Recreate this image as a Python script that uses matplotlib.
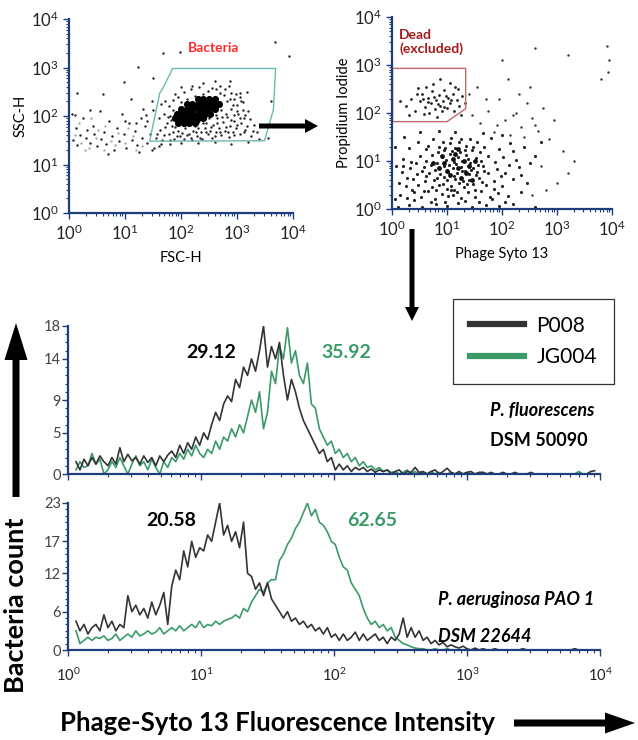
import numpy as np
import matplotlib
matplotlib.use("Agg")
import matplotlib.pyplot as plt
from matplotlib.lines import Line2D
from matplotlib.patches import FancyArrow, Polygon
from matplotlib.ticker import LogLocator, MultipleLocator, NullFormatter

plt.rcParams['font.family'] = ['Lato', 'DejaVu Sans']

W, H = 638, 740
NAVY = '#1d3d7c'
DARK = '#333333'
GREEN = '#3a9b68'

# ---- histogram data: counts per channel, channels spaced 0.03 decades from 10^0.06 ----
first_decade = 0.06
decade_step = 0.03

pf_p008 = [1.5, 0.5, 1.8, 1.0, 2.0, 1.2, 2.2, 1.5, 1.0, 2.0,
           1.2, 3.2, 1.5, 2.4, 1.6, 2.0, 1.2, 2.2, 1.4, 2.0,
           1.0, 2.2, 1.5, 2.3, 2.8, 2.0, 3.5, 2.5, 3.8, 3.0,
           4.5, 3.5, 5.0, 4.2, 6.0, 7.5, 6.5, 8.5, 9.5, 8.8,
           11.5, 10.5, 13.0, 12.0, 14.0, 12.5, 15.0, 18.0, 13.0, 15.5,
           14.0, 16.0, 12.0, 9.0, 11.5, 10.0, 8.0, 6.5, 5.5, 4.5,
           3.5, 2.5, 3.0, 1.5, 2.0, 0.5, 1.2, 0.5, 1.0, 0.3,
           0.8, 0.5, 0.8, 0.3, 0.6, 0.2, 0.5, 0.3, 0.5, 0.0,
           0.3, 0.5, 0.0, 0.3, 0.2, 0.8, 0.2, 0.3, 0.0, 0.3,
           0.5, 0.0, 0.3, 0.7, 0.2, 0.0, 0.3, 0.0, 0.2, 0.3,
           0.0, 0.2, 0.2, 0.0, 0.2, 0.0, 0.0, 0.2, 0.0, 0.0,
           0.2, 0.0, 0.0, 0.0, 0.2, 0.0, 0.0, 0.0, 0.0, 0.0,
           0.0, 0.0, 0.0, 0.0, 0.0, 0.0, 0.0, 0.0, 0.0, 0.3,
           0.4]

pf_jg004 = [0.5, 1.5, 0.8, 1.0, 2.5, 1.2, 1.8, 0.0, 0.5, 1.5,
            0.8, 2.0, 1.0, 0.0, 1.2, 2.2, 1.0, 1.5, 0.5, 1.8,
            0.8, 0.0, 1.5, 0.8, 2.0, 1.5, 2.5, 1.8, 3.0, 2.2,
            3.5, 2.5, 2.0, 3.0, 2.5, 4.0, 3.0, 4.5, 4.0, 5.5,
            4.5, 6.0, 5.0, 7.0, 9.0, 7.5, 10.0, 5.5, 7.5, 12.5,
            11.0, 15.5, 14.0, 17.8, 13.5, 15.0, 12.0, 11.0, 13.5, 8.5,
            8.0, 5.5, 4.5, 3.5, 4.0, 2.5, 3.0, 2.0, 2.5, 1.5,
            2.0, 1.0, 1.5, 0.8, 1.0, 0.5, 0.8, 0.3, 0.5, 0.2,
            0.3, 0.0, 0.2, 0.5, 0.0, 0.3, 0.0, 0.2, 0.0, 0.3,
            0.0, 0.2, 0.0, 0.0, 0.2, 0.0, 0.0, 0.0, 0.2, 0.0,
            0.0, 0.0, 0.2, 0.0, 0.0, 0.0, 0.0, 0.0, 0.0, 0.0,
            0.0, 0.0, 0.0, 0.0, 0.0, 0.0, 0.0, 0.0, 0.0, 0.0,
            0.0, 0.0, 0.0, 0.0, 0.0, 0.0, 0.3, 0.0, 0.0, 0.0,
            0.0]

pa_p008 = [4.5, 3.0, 4.0, 2.5, 3.5, 4.0, 3.0, 5.5, 3.5, 4.5,
           3.0, 4.0, 3.5, 8.5, 6.0, 7.0, 5.5, 6.5, 5.0, 7.5,
           5.5, 7.0, 9.0, 4.0, 10.0, 12.5, 11.0, 15.5, 13.0, 17.0,
           14.5, 16.0, 15.5, 18.0, 17.0, 20.0, 23.0, 18.0, 19.5, 17.0,
           18.5, 16.0, 20.0, 12.0, 11.5, 9.5, 10.5, 8.5, 10.5, 8.0,
           7.0, 6.0, 5.0, 6.0, 4.5, 5.0, 4.0, 4.5, 3.5, 4.0,
           3.0, 3.5, 2.5, 3.5, 2.0, 2.5, 1.5, 2.5, 1.5, 2.0,
           2.8, 1.5, 2.5, 1.5, 2.0, 2.5, 1.5, 2.0, 1.0, 2.0,
           1.5, 2.5, 5.0, 2.0, 3.5, 2.0, 3.0, 1.5, 2.0, 1.0,
           1.5, 0.8, 1.2, 0.5, 0.8, 0.5, 0.3, 0.6, 0.2, 0.0,
           0.3, 0.0, 0.2, 0.0, 0.0, 0.2, 0.0, 0.0, 0.0, 0.0,
           0.0, 0.0, 0.2, 0.0, 0.0, 0.0, 0.0, 0.0, 0.0, 0.0,
           0.0, 0.0, 0.0, 0.0, 0.0, 0.2, 0.0, 0.0, 0.0, 0.0,
           0.0]

pa_jg004 = [3.0, 1.0, 1.5, 2.0, 1.5, 2.0, 1.8, 2.2, 1.5, 1.8,
            2.5, 1.5, 2.0, 2.5, 2.0, 3.0, 2.2, 2.5, 3.0, 2.5,
            2.8, 3.5, 2.5, 3.0, 3.5, 3.0, 3.8, 3.0, 3.5, 4.0,
            3.5, 4.5, 3.5, 4.0, 3.8, 4.5, 4.0, 4.5, 4.8, 5.0,
            5.5, 5.0, 6.5, 6.0, 7.5, 8.5, 9.5, 9.0, 10.5, 11.0,
            11.0, 14.0, 15.0, 16.5, 17.5, 19.0, 20.0, 21.5, 23.0, 21.0,
            22.0, 20.0, 19.5, 18.5, 17.0, 16.5, 14.5, 13.0, 12.5, 10.5,
            9.5, 8.5, 6.5, 5.0, 4.0, 4.5, 3.5, 4.0, 3.0, 3.5,
            2.0, 1.5, 1.0, 0.8, 0.5, 0.3, 0.2, 0.2, 0.0, 0.0,
            0.2, 0.0, 0.0, 0.2, 0.0, 0.0, 0.0, 0.0, 0.0, 0.0,
            0.0, 0.0, 0.0, 0.0, 0.0, 0.0, 0.0, 0.0, 0.0, 0.0,
            0.0, 0.0, 0.0, 0.0, 0.0, 0.0, 0.0, 0.0, 0.0, 0.0,
            0.0, 0.0, 0.0, 0.0, 0.0, 0.0, 0.0, 0.0, 0.0, 0.0,
            0.0]

pf_yticks = [0, 5, 9, 14, 18]
pa_yticks = [0, 6, 12, 17, 23]
pf_means = ['29.12', '35.92']
pa_means = ['20.58', '62.65']

# ---- scatter data, log10 units (FSC-H, SSC-H) ----
fsc_ssc_core = [(1.95, 1.85), (2.05, 1.85), (2.15, 1.85), (2.25, 1.85),
                (1.90, 1.95), (2.00, 1.95), (2.10, 1.95), (2.20, 1.95), (2.30, 1.95), (2.40, 1.95),
                (1.92, 2.05), (2.02, 2.05), (2.12, 2.05), (2.22, 2.05), (2.32, 2.05), (2.42, 2.05),
                (2.52, 2.05), (2.00, 2.15), (2.10, 2.15), (2.20, 2.15), (2.30, 2.15), (2.40, 2.15),
                (2.50, 2.15), (2.60, 2.15), (2.10, 2.25), (2.20, 2.25), (2.30, 2.25), (2.40, 2.25),
                (2.50, 2.25), (2.60, 2.25), (2.68, 2.25), (2.30, 2.35), (2.40, 2.35), (2.50, 2.35),
                (2.60, 2.35), (1.97, 1.90), (2.07, 2.00), (2.17, 2.10), (2.27, 2.20), (2.37, 2.30),
                (2.47, 2.30), (2.57, 2.20), (2.47, 2.10), (2.37, 2.00), (2.27, 1.90), (2.17, 1.90),
                (2.12, 2.20), (2.55, 2.30), (2.35, 2.10), (2.45, 2.20), (2.05, 2.10), (2.25, 2.00)]
fsc_ssc_dots = [(1.55, 1.55), (1.62, 1.72), (1.70, 1.60), (1.75, 1.85), (1.80, 1.50), (1.85, 1.68),
                (1.90, 1.78), (1.92, 1.58), (1.97, 1.88), (2.02, 1.65), (2.05, 1.52), (2.08, 1.75),
                (2.12, 1.84), (2.15, 1.62), (2.18, 1.55), (2.22, 1.70), (2.25, 1.80), (2.28, 1.58),
                (2.32, 1.92), (2.35, 1.66), (2.38, 1.52), (2.42, 1.76), (2.45, 1.85), (2.48, 1.62),
                (2.52, 1.70), (2.55, 1.55), (2.58, 1.82), (2.62, 1.66), (2.65, 1.95), (2.68, 1.75),
                (2.72, 1.60), (2.75, 1.88), (2.78, 1.70), (2.82, 1.98), (2.85, 1.56), (2.88, 1.80),
                (2.92, 1.68), (2.95, 1.90), (2.98, 1.75), (3.02, 2.05), (3.05, 1.62), (3.08, 1.85),
                (3.12, 1.95), (3.15, 1.72), (3.20, 2.10), (3.25, 1.58), (3.30, 1.82), (3.35, 1.66),
                (3.40, 1.52), (1.70, 2.05), (1.78, 2.20), (1.85, 2.32), (1.88, 2.02), (1.95, 2.40),
                (2.00, 2.28), (2.05, 2.50), (2.10, 2.36), (2.18, 2.55), (2.25, 2.42), (2.32, 2.60),
                (2.40, 2.45), (2.48, 2.52), (2.55, 2.58), (2.62, 2.55), (2.70, 2.62), (2.78, 2.55),
                (2.85, 2.62), (2.90, 2.48), (2.95, 2.35), (3.00, 2.22), (3.05, 2.40), (3.10, 2.28),
                (3.18, 2.50), (2.90, 2.15), (2.80, 2.05), (2.95, 2.02), (3.10, 2.12), (1.60, 1.95),
                (1.65, 2.25), (1.50, 2.12), (1.45, 1.62), (1.40, 1.45), (1.35, 1.80), (1.30, 1.55),
                (1.28, 1.95), (1.22, 1.40), (1.18, 1.70), (1.12, 1.50), (1.08, 1.85), (1.02, 1.35),
                (0.98, 1.62), (0.95, 2.05), (0.90, 1.48), (0.85, 1.75), (0.80, 1.30), (0.76, 1.58),
                (0.72, 1.90), (0.66, 1.42), (0.62, 1.68), (0.58, 1.52), (0.55, 2.10), (0.50, 1.38),
                (0.45, 1.62), (0.42, 1.80), (0.38, 1.45), (0.33, 1.72), (0.30, 1.55), (0.25, 1.95),
                (0.20, 1.60), (0.15, 1.40), (0.12, 1.75), (0.08, 1.50), (0.05, 2.05), (1.25, 1.25),
                (0.70, 1.22), (1.48, 1.30), (1.52, 1.35), (1.60, 1.38), (1.38, 2.02), (1.67, 3.29),
                (1.98, 3.31), (3.67, 3.52), (3.92, 3.24), (1.23, 3.02), (0.98, 2.71), (1.50, 2.78),
                (2.87, 2.73), (3.05, 2.47), (0.14, 2.47), (0.10, 2.03), (0.37, 2.13), (3.55, 1.55),
                (3.60, 2.30), (0.60, 2.45), (1.10, 2.35),
                (1.58, 1.62), (1.66, 1.50), (1.72, 1.78), (1.78, 1.62), (1.82, 1.92), (1.88, 1.52),
                (1.94, 1.70), (1.99, 1.58), (2.04, 1.82), (2.10, 1.60), (2.16, 1.90), (2.20, 1.50),
                (2.26, 1.66), (2.30, 1.76), (2.34, 1.55), (2.40, 1.86), (2.44, 1.68), (2.50, 1.95),
                (2.54, 1.78), (2.60, 1.58), (2.64, 1.85), (2.70, 1.68), (2.74, 1.98), (2.80, 1.78),
                (2.84, 1.66), (2.90, 1.92), (2.94, 1.60), (3.00, 1.82), (3.06, 1.96), (3.12, 1.66),
                (3.18, 1.80), (3.24, 1.94), (3.28, 1.70), (2.92, 2.22), (3.00, 2.10), (3.08, 2.30),
                (3.14, 2.02), (2.98, 2.45), (2.88, 2.36), (1.80, 2.00), (1.86, 2.12), (1.76, 1.98),
                (1.72, 2.30), (1.90, 2.45), (2.00, 2.60), (2.20, 2.62), (2.40, 2.68), (2.60, 2.72),
                (1.64, 1.42), (1.80, 1.42), (2.00, 1.45), (2.30, 1.44), (2.60, 1.46), (2.90, 1.42),
                (3.20, 1.46), (1.40, 1.90), (1.48, 2.30), (1.32, 2.15), (1.20, 1.85), (1.00, 1.90),
                (2.76, 2.44), (2.82, 2.30), (2.70, 2.48), (1.84, 1.80), (2.62, 2.02), (2.72, 2.12)]
fsc_ssc_faint = [(0.10, 1.60), (0.22, 1.45), (0.35, 1.35), (0.48, 1.55), (0.62, 1.30), (0.75, 1.48),
                 (0.88, 1.65), (1.00, 1.45), (1.15, 1.58), (1.30, 1.38), (0.18, 1.85), (0.40, 1.95),
                 (0.65, 1.80), (0.28, 1.30), (0.52, 1.72), (0.82, 1.40), (1.05, 1.75), (1.20, 1.30)]
bacteria_gate = [(1.44, 1.48), (1.62, 2.47), (1.68, 2.58), (1.85, 2.98),
                 (3.69, 2.98), (3.65, 2.13), (3.49, 1.49)]

# ---- scatter data, log10 units (Phage Syto 13, Propidium Iodide) ----
syto_pi_dead = [(0.25, 2.15), (0.35, 2.30), (0.42, 2.05), (0.50, 2.25), (0.55, 2.40), (0.60, 2.12),
                (0.65, 2.32), (0.70, 2.20), (0.72, 2.45), (0.78, 2.08), (0.80, 2.28), (0.85, 2.38),
                (0.88, 2.15), (0.92, 2.25), (0.95, 2.48), (1.00, 2.10), (1.02, 2.32), (1.05, 2.20),
                (1.10, 2.40), (1.12, 2.05), (1.18, 2.28), (1.22, 2.15), (1.28, 2.35), (0.48, 2.52),
                (0.62, 2.55), (0.75, 2.60), (0.90, 2.05), (1.15, 2.55), (0.30, 1.95), (0.58, 1.98),
                (0.82, 1.92), (1.25, 1.95), (0.45, 2.40), (0.68, 2.00), (0.98, 2.35), (0.15, 2.25),
                (1.05, 2.62), (0.88, 2.70), (1.32, 2.20), (1.20, 2.50), (0.66, 2.22), (0.84, 2.18),
                (0.76, 2.34), (0.94, 2.12), (1.08, 2.28), (0.56, 2.30)]
syto_pi_live = [(0.10, 0.05), (0.30, 0.08), (0.55, 0.04), (0.80, 0.10), (1.00, 0.06), (1.20, 0.12),
                (1.45, 0.05), (1.70, 0.09), (1.95, 0.06), (2.20, 0.10), (2.60, 0.05),
                (0.15, 0.30), (0.28, 0.22), (0.40, 0.35), (0.52, 0.25), (0.65, 0.38), (0.78, 0.20),
                (0.90, 0.32), (1.02, 0.28), (1.12, 0.40), (1.25, 0.22), (1.38, 0.35), (1.50, 0.26),
                (1.62, 0.38), (1.78, 0.24), (1.92, 0.33), (2.10, 0.28), (2.35, 0.36),
                (0.12, 0.55), (0.25, 0.48), (0.38, 0.62), (0.48, 0.50), (0.60, 0.58), (0.72, 0.46),
                (0.82, 0.64), (0.92, 0.52), (1.00, 0.60), (1.08, 0.48), (1.15, 0.62), (1.22, 0.55),
                (1.30, 0.46), (1.40, 0.60), (1.48, 0.52), (1.58, 0.64), (1.70, 0.50), (1.85, 0.58),
                (2.00, 0.48), (2.20, 0.62), (2.45, 0.55),
                (0.18, 0.78), (0.32, 0.85), (0.45, 0.72), (0.58, 0.88), (0.68, 0.76), (0.78, 0.82),
                (0.88, 0.72), (0.95, 0.90), (1.02, 0.78), (1.10, 0.86), (1.18, 0.74), (1.25, 0.88),
                (1.32, 0.80), (1.40, 0.72), (1.48, 0.86), (1.55, 0.78), (1.65, 0.90), (1.75, 0.74),
                (1.90, 0.84), (2.05, 0.76), (2.30, 0.88),
                (0.20, 1.05), (0.35, 0.98), (0.50, 1.10), (0.62, 1.00), (0.72, 1.12), (0.82, 0.96),
                (0.90, 1.08), (0.98, 1.02), (1.05, 1.14), (1.12, 0.98), (1.20, 1.08), (1.28, 1.00),
                (1.35, 1.12), (1.42, 0.96), (1.52, 1.06), (1.62, 1.00), (1.75, 1.10), (1.88, 0.98),
                (2.02, 1.08), (2.25, 1.02), (2.50, 0.95),
                (0.30, 1.28), (0.48, 1.40), (0.62, 1.25), (0.75, 1.45), (0.85, 1.30), (0.95, 1.22),
                (1.05, 1.38), (1.15, 1.28), (1.25, 1.45), (1.35, 1.32), (1.45, 1.22), (1.55, 1.40),
                (1.68, 1.30), (1.80, 1.48), (1.95, 1.26), (2.15, 1.38), (2.40, 1.30),
                (0.62, 0.68), (0.70, 0.92), (0.76, 0.60), (0.84, 1.18), (0.86, 0.50), (0.94, 0.66),
                (0.97, 1.28), (1.03, 0.92), (1.07, 0.40), (1.09, 1.20), (1.13, 0.68), (1.17, 0.94),
                (1.19, 0.36), (1.23, 1.18), (1.27, 0.80), (1.29, 0.58), (1.33, 1.22), (1.37, 0.52),
                (1.39, 1.05), (1.43, 0.82), (1.47, 1.30), (1.53, 0.70), (1.57, 0.92), (1.60, 1.18),
                (1.64, 0.56), (1.68, 0.80), (0.66, 1.32), (0.80, 0.40), (0.92, 1.40), (1.08, 1.48),
                (1.22, 1.40), (1.42, 1.45), (0.55, 0.80), (0.44, 0.96), (0.58, 0.38), (0.40, 0.18),
                (0.70, 0.14), (0.96, 0.15), (1.32, 0.16), (1.58, 0.15), (1.82, 0.20), (2.05, 0.15),
                (0.05, 0.20), (0.08, 0.90), (0.06, 1.30), (0.22, 1.50), (0.50, 1.60), (0.85, 1.62),
                (1.15, 1.60), (1.65, 1.58), (2.00, 1.55), (2.20, 1.20), (2.35, 0.70), (2.60, 1.10),
                (2.70, 1.40), (1.00, 0.42), (1.10, 0.30), (1.50, 0.40), (1.85, 0.42), (1.98, 0.68),
                (2.12, 0.92), (0.28, 0.65), (0.36, 0.40), (0.20, 0.90)]
syto_pi_core = [(0.95, 0.95), (1.10, 1.05), (1.20, 0.85), (1.30, 1.00), (1.05, 0.70), (1.40, 0.90),
                (0.85, 0.85), (1.15, 1.15), (1.25, 0.65), (1.00, 0.80), (1.35, 0.75), (0.90, 1.10),
                (1.50, 1.00), (1.20, 1.25), (0.75, 0.95), (1.45, 0.60)]
syto_pi_sparse = [(1.60, 1.80), (1.75, 2.05), (1.85, 1.60), (1.95, 2.30), (2.05, 1.85), (2.15, 1.55),
                  (2.25, 2.00), (2.35, 1.70), (2.45, 2.20), (2.55, 1.90), (2.65, 1.62), (2.75, 2.10),
                  (2.85, 1.45), (2.95, 1.85), (3.10, 1.20), (3.20, 0.75), (2.70, 0.90), (2.80, 0.40),
                  (3.00, 0.55), (3.30, 1.00), (2.55, 0.30), (1.45, 1.95), (1.40, 2.40), (1.55, 2.55),
                  (2.10, 2.70), (2.50, 2.55), (2.00, 3.10), (2.60, 3.35), (3.90, 3.40), (3.92, 2.85),
                  (3.95, 3.10), (3.80, 2.70), (3.20, 3.20), (1.90, 1.75), (2.20, 1.95), (2.40, 1.50),
                  (2.60, 1.75), (2.30, 2.40), (1.70, 2.30)]
dead_gate = [(0.01, 2.93), (1.34, 2.93), (1.34, 2.09), (1.00, 1.82), (0.01, 1.82)]


def px_axes(left, top, right, bottom):
    return fig.add_axes([left / W, 1 - bottom / H, (right - left) / W, (bottom - top) / H])


def style_axes(ax, labelsize):
    for s in ['top', 'right']:
        ax.spines[s].set_visible(False)
    for s in ['left', 'bottom']:
        ax.spines[s].set_color(NAVY)
        ax.spines[s].set_linewidth(1.6)
    ax.tick_params(which='major', direction='out', color=NAVY, length=4, width=1,
                   labelcolor='#222222', labelsize=labelsize)
    ax.tick_params(which='minor', direction='out', color=NAVY, length=2.5, width=0.8)


def log_axis(axis):
    axis.set_major_locator(LogLocator(base=10, numticks=10))
    axis.set_minor_locator(LogLocator(base=10, subs=np.arange(2, 10), numticks=20))
    axis.set_minor_formatter(NullFormatter())


def scatter_panel(ax, lists):
    ax.set_xscale('log')
    ax.set_yscale('log')
    ax.set_xlim(1, 1e4)
    ax.set_ylim(1, 1e4)
    log_axis(ax.xaxis)
    log_axis(ax.yaxis)
    style_axes(ax, 12)
    for pts, size, color in lists:
        arr = np.array(pts)
        ax.scatter(10 ** arr[:, 0], 10 ** arr[:, 1], s=size, c=color, linewidths=0)


def gate(ax, pts, color):
    arr = 10 ** np.array(pts)
    ax.add_patch(Polygon(arr, closed=True, fill=False, edgecolor=color, linewidth=1.0))


fig = plt.figure(figsize=(W / 100, H / 100), dpi=100)

# top left: FSC vs SSC
ax1 = px_axes(69, 19, 293, 213)
scatter_panel(ax1, [(fsc_ssc_faint, 3, '#aaaaaa'), (fsc_ssc_dots, 3, '#222222'),
                    (fsc_ssc_core, 26, 'black')])
gate(ax1, bacteria_gate, '#6cb9b2')
ax1.set_xlabel('FSC-H', fontsize=10.5, labelpad=6)
ax1.set_ylabel('SSC-H', fontsize=10.5, labelpad=2)

# top right: Syto vs PI
ax2 = px_axes(392, 17, 612, 209)
scatter_panel(ax2, [(syto_pi_sparse, 3, '#333333'), (syto_pi_dead, 4, '#222222'),
                    (syto_pi_live, 5, '#222222'), (syto_pi_core, 12, '#111111')])
gate(ax2, dead_gate, '#c46a6a')
ax2.set_xlabel('Phage Syto 13', fontsize=10.5, labelpad=6)
ax2.set_ylabel('Propidium Iodide', fontsize=10.5, labelpad=2)

# histograms
channels = 10 ** (first_decade + decade_step * np.arange(len(pf_p008)))


def hist_panel(ax, black, green, yticks, show_x):
    ax.plot(channels, green, color=GREEN, lw=1.2)
    ax.plot(channels, black, color=DARK, lw=1.2)
    ax.set_xscale('log')
    ax.set_xlim(1, 1e4)
    ax.set_ylim(0, yticks[-1])
    log_axis(ax.xaxis)
    ax.set_yticks(yticks)
    ax.yaxis.set_minor_locator(MultipleLocator(1))
    style_axes(ax, 10.5)
    ax.tick_params(axis='y', labelcolor='#444444', pad=1)
    if not show_x:
        ax.tick_params(axis='x', which='both', labelbottom=False)


ax3 = px_axes(68, 326, 600, 474)
hist_panel(ax3, pf_p008, pf_jg004, pf_yticks, False)
ax4 = px_axes(68, 503, 600, 650)
hist_panel(ax4, pa_p008, pa_jg004, pa_yticks, True)
ax4.tick_params(axis='x', pad=8)

handles = [Line2D([], [], color=DARK, lw=4.5), Line2D([], [], color=GREEN, lw=4.5)]
leg = ax3.legend(handles, ['P008', 'JG004'], loc='upper left',
                 bbox_to_anchor=(453 / W, 1 - 299 / H), bbox_transform=fig.transFigure,
                 fontsize=15, frameon=True, fancybox=False, edgecolor='black',
                 handlelength=2.6, borderpad=0.8, labelspacing=0.55, handletextpad=0.6,
                 borderaxespad=0)
leg.get_frame().set_linewidth(0.9)

# overlay in pixel coordinates for arrows and free text
ov = fig.add_axes([0, 0, 1, 1])
ov.set_xlim(0, W)
ov.set_ylim(H, 0)
ov.axis('off')
ov.patch.set_alpha(0)

arrows = [(259, 126, 59, 0, 5, 14, 13),
          (412, 229, 0, 92, 5, 14, 14),
          (16, 497, 0, -174, 7, 23, 37),
          (514, 723, 121, 0, 7, 21, 30)]
for x, y, dx, dy, w, hw, hl in arrows:
    ov.add_patch(FancyArrow(x, y, dx, dy, width=w, head_width=hw, head_length=hl,
                            length_includes_head=True, color='black', lw=0))

ov.text(214, 48, 'Bacteria', color='#ff2a2a', fontsize=10, fontweight='bold',
        ha='center', va='center')
ov.text(399, 42, 'Dead\n(excluded)', color='#a3191c', fontsize=10, fontweight='bold',
        ha='left', va='center', linespacing=1.05)

ov.text(211, 352, pf_means[0], color='black', fontsize=14, fontweight='bold', ha='center', va='center')
ov.text(346, 352, pf_means[1], color=GREEN, fontsize=14, fontweight='bold', ha='center', va='center')
ov.text(171, 521, pa_means[0], color='black', fontsize=14, fontweight='bold', ha='center', va='center')
ov.text(372, 521, pa_means[1], color=GREEN, fontsize=14, fontweight='bold', ha='center', va='center')

ov.text(490, 411, 'P. fluorescens', fontsize=13, fontweight='bold', fontstyle='italic',
        ha='left', va='center')
ov.text(490, 440, 'DSM 50090', fontsize=13, fontweight='bold', ha='left', va='center')
ov.text(438, 600, 'P. aeruginosa PAO 1', fontsize=13, fontweight='bold', fontstyle='italic',
        ha='left', va='center')
ov.text(438, 636, 'DSM 22644', fontsize=13, fontweight='bold', fontstyle='italic',
        ha='left', va='center')

ov.text(16, 605, 'Bacteria count', fontsize=19.5, fontweight='bold', rotation=90,
        ha='center', va='center')
ov.text(278, 723, 'Phage-Syto 13 Fluorescence Intensity', fontsize=18.5, fontweight='bold',
        ha='center', va='center')

fig.savefig('out.png', dpi=100)
